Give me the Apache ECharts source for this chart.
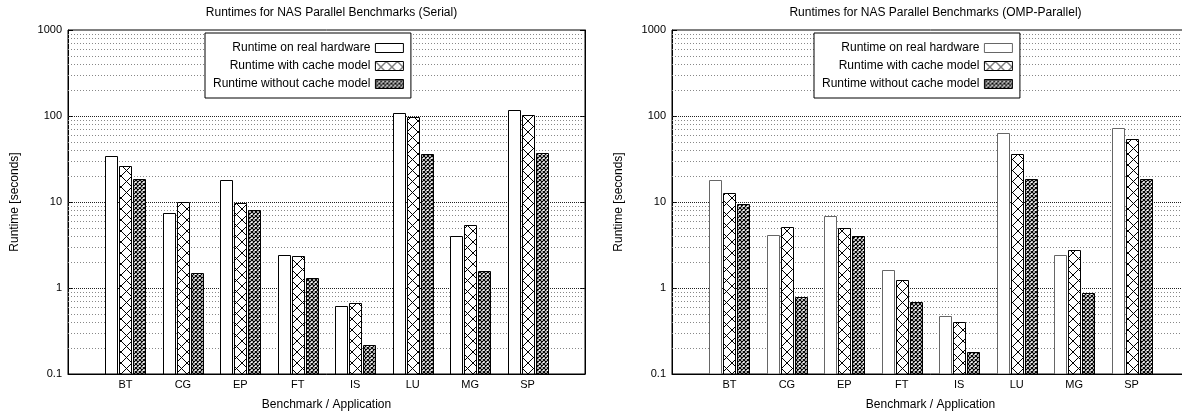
<!DOCTYPE html>
<html>
<head>
<meta charset="utf-8">
<script src="https://cdn.jsdelivr.net/npm/echarts@6/dist/echarts.min.js"></script>
<style>
  html, body { margin: 0; padding: 0; background: #fff; overflow: hidden; width: 1182px; height: 417px; }
  .chart { position: absolute; top: 0; height: 417px; }
  #serial { left: 0; width: 600px; }
  #omp { left: 600px; width: 600px; }
</style>
</head>
<body>
<div class="chart" id="serial"></div>
<div class="chart" id="omp"></div>
<script>
  var benchmarks = ['BT', 'CG', 'EP', 'FT', 'IS', 'LU', 'MG', 'SP']
  var seriesNames = ['Runtime on real hardware', 'Runtime with cache model', 'Runtime without cache model']

  // serial runtimes [seconds]
  var serialHardware = [34.5, 7.4, 17.9, 2.40, 0.62, 108, 3.99, 116]
  var serialCache = [26, 10.1, 9.8, 2.34, 0.675, 98, 5.36, 103]
  var serialNoCache = [18.7, 1.51, 8.1, 1.31, 0.215, 35.9, 1.58, 36.8]

  // OMP-parallel runtimes [seconds]
  var ompHardware = [18.0, 4.1, 6.93, 1.63, 0.47, 64, 2.44, 72]
  var ompCache = [12.8, 5.16, 4.94, 1.23, 0.40, 35.9, 2.74, 54]
  var ompNoCache = [9.4, 0.79, 4.06, 0.69, 0.179, 18.7, 0.875, 18.7]

  // log axis range and grid lines
  var yMin = 0.1
  var yMax = 1000
  var majorGrid = [1, 10, 100]
  var minorGrid = [0.2, 0.3, 0.4, 0.5, 0.6, 0.7, 0.8, 0.9,
                   2, 3, 4, 5, 6, 7, 8, 9,
                   20, 30, 40, 50, 60, 70, 80, 90,
                   200, 300, 400, 500, 600, 700, 800, 900]

  var font = 'Liberation Sans'
  var barWidth = 12
  var barGap = 2

  // hatch fill for the bars
  function makePattern(size, width) {
    var c = document.createElement('canvas')
    c.width = size
    c.height = size
    var ctx = c.getContext('2d')
    ctx.fillStyle = '#fff'
    ctx.fillRect(0, 0, size, size)
    ctx.strokeStyle = '#000'
    ctx.lineWidth = width
    ctx.beginPath()
    ctx.moveTo(0, 0); ctx.lineTo(size, size)
    ctx.moveTo(size, 0); ctx.lineTo(0, size)
    ctx.stroke()
    return c
  }
  var fills = [
    '#fff',
    { image: makePattern(11, 1), repeat: 'repeat' },
    { image: makePattern(4, 1.2), repeat: 'repeat' }
  ]

  // bars on a log axis drawn down to the axis minimum (not to 1)
  function barRenderer(k, stroke) {
    return function (params, api) {
      var idx = api.value(0)
      var top = api.coord([idx, api.value(1)])
      var base = api.coord([idx, yMin])
      var x = Math.round(top[0] + (k - 1) * (barWidth + barGap) - barWidth / 2) + 0.5
      var y = Math.round(top[1]) + 0.5
      return {
        type: 'rect',
        shape: { x: x, y: y, width: barWidth, height: base[1] - y },
        style: { fill: fills[k], stroke: stroke, lineWidth: 1 }
      }
    }
  }

  function renderChart(el, title, data, grid, legendLeft, hwBorder) {
    var myChart = echarts.init(document.getElementById(el))
    var xData = [''].concat(benchmarks).concat([''])

    var gridLines = []
    minorGrid.forEach(function (v) {
      gridLines.push({ yAxis: v, lineStyle: { color: '#888', type: [1, 2], width: 1 } })
    })
    majorGrid.forEach(function (v) {
      gridLines.push({ yAxis: v, lineStyle: { color: '#222', type: [1, 1], width: 1 } })
    })

    var logAxis = {
      type: 'log',
      logBase: 10,
      min: yMin,
      max: yMax,
      splitNumber: 4,
      axisLine: { show: true, lineStyle: { color: '#000', width: 1 } },
      axisTick: { show: true, inside: true, length: 5, lineStyle: { color: '#000' } },
      splitLine: { show: false }
    }

    var series = data.map(function (values, k) {
      var s = {
        name: seriesNames[k],
        type: 'custom',
        clip: true,
        renderItem: barRenderer(k, k === 0 ? hwBorder : '#000'),
        encode: { x: 0, y: 1 },
        itemStyle: { color: fills[k], borderColor: k === 0 ? hwBorder : '#000', borderWidth: 1 },
        data: benchmarks.map(function (b, i) { return [b, values[i]] })
      }
      if (k === 0) {
        s.markLine = {
          silent: true,
          symbol: 'none',
          z: 1,
          label: { show: false },
          data: gridLines
        }
      }
      return s
    })

    var option = {
      animation: false,
      title: {
        text: title,
        left: grid.left + (600 - grid.left - grid.right) / 2,
        textAlign: 'center',
        top: 2,
        textStyle: { fontFamily: font, fontSize: 12, fontWeight: 'normal', color: '#000' }
      },
      legend: {
        data: seriesNames,
        orient: 'vertical',
        align: 'right',
        icon: 'rect',
        left: legendLeft,
        top: 33,
        itemWidth: 28,
        itemHeight: 9,
        itemGap: 6,
        padding: [9, 7, 8, 8],
        backgroundColor: '#fff',
        borderColor: '#000',
        borderWidth: 1,
        z: 10,
        itemStyle: { borderWidth: 1 },
        textStyle: { fontFamily: font, fontSize: 12, color: '#000' }
      },
      grid: {
        left: grid.left, right: grid.right, top: 30, bottom: 43,
        show: true, borderColor: '#000', borderWidth: 1, backgroundColor: 'transparent'
      },
      xAxis: {
        type: 'category',
        data: xData,
        boundaryGap: false,
        name: 'Benchmark / Application',
        nameLocation: 'middle',
        nameGap: 25,
        nameTextStyle: { fontFamily: font, fontSize: 12, color: '#000' },
        axisLine: { lineStyle: { color: '#000', width: 1 } },
        axisTick: { show: false },
        axisLabel: { fontFamily: font, fontSize: 11, color: '#000', margin: 5, interval: 0 },
        splitLine: { show: false }
      },
      yAxis: [
        Object.assign({}, logAxis, {
          position: 'left',
          name: 'Runtime [seconds]',
          nameLocation: 'middle',
          nameGap: 47,
          nameTextStyle: { fontFamily: font, fontSize: 12, color: '#000' },
          axisLabel: {
            fontFamily: font, fontSize: 11, color: '#000', margin: 6,
            formatter: function (v) { return String(+v.toPrecision(6)) }
          }
        }),
        Object.assign({}, logAxis, {
          position: 'right',
          axisLabel: { show: false }
        })
      ],
      series: series
    }
    myChart.setOption(option)
  }

  renderChart('serial', 'Runtimes for NAS Parallel Benchmarks (Serial)',
    [serialHardware, serialCache, serialNoCache], { left: 68, right: 15 }, 205, '#000')
  renderChart('omp', 'Runtimes for NAS Parallel Benchmarks (OMP-Parallel)',
    [ompHardware, ompCache, ompNoCache], { left: 72, right: 11 }, 214, '#666')
</script>
</body>
</html>
